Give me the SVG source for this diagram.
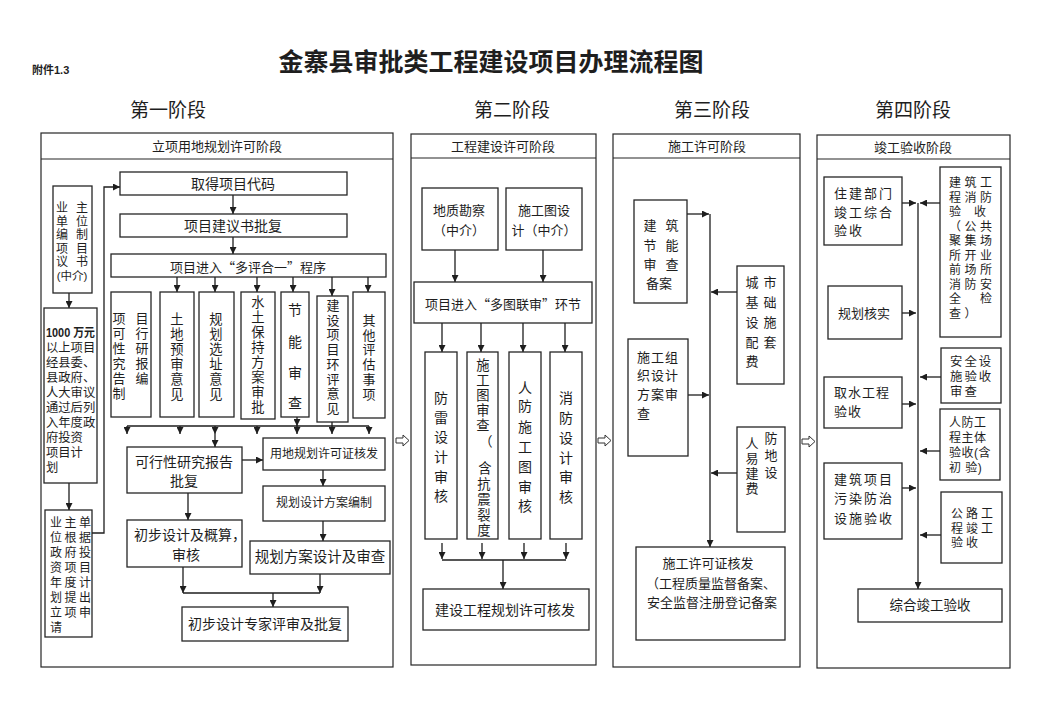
<svg xmlns="http://www.w3.org/2000/svg" width="1056" height="727" viewBox="0 0 1056 727">
<defs>
<marker id="ah" viewBox="0 0 10 10" refX="10" refY="5" markerWidth="7" markerHeight="7" markerUnits="userSpaceOnUse" orient="auto"><path d="M0,0 L10,5 L0,10 z" fill="#1e1e1e"/></marker>
<style>
text{font-family:"Liberation Sans","Noto Sans CJK SC","Noto Sans CJK JP",sans-serif;fill:#1e1e1e;dominant-baseline:central}
text.cjk{font-family:"Noto Sans CJK SC","Noto Sans CJK JP",sans-serif}
.m{text-anchor:middle}
.s{text-anchor:start}
.f12{font-size:12px}.f13{font-size:13px}.f14{font-size:14px}
.fv{font-size:13.3px}
rect.b{fill:#fff;stroke:#262626;stroke-width:1.3}
rect.p{fill:none;stroke:#262626;stroke-width:1.2}
.ph line{stroke:#262626;stroke-width:1.2}
#edges line,#edges path{stroke:#1e1e1e;stroke-width:1.3;fill:none}
#edges .a{marker-end:url(#ah)}
.bk{fill:#fff;stroke:#333;stroke-width:1}
</style>
</defs>
<rect width="1056" height="727" fill="#fff"/>

<text x="32" y="70" class="s" font-size="11" font-weight="700">附件1.3</text>
<text x="491" y="62" class="m" font-size="25" font-weight="700">金寨县审批类工程建设项目办理流程图</text>
<text x="168" y="110" class="m" font-size="19">第一阶段</text>
<text x="512" y="110" class="m" font-size="19">第二阶段</text>
<text x="712" y="110" class="m" font-size="19">第三阶段</text>
<text x="913" y="110" class="m" font-size="19">第四阶段</text>

<!-- phase frames -->
<g id="phase1" class="ph"><rect class="p" x="41" y="133" width="352" height="534"/><line x1="41" y1="159" x2="393" y2="159"/><text x="217" y="146" class="m f13">立项用地规划许可阶段</text></g>
<g id="phase2" class="ph"><rect class="p" x="411" y="134" width="185" height="531"/><line x1="411" y1="158" x2="596" y2="158"/><text x="503" y="146" class="m f13">工程建设许可阶段</text></g>
<g id="phase3" class="ph"><rect class="p" x="613" y="134" width="187" height="533"/><line x1="613" y1="158" x2="800" y2="158"/><text x="707" y="146" class="m f13">施工许可阶段</text></g>
<g id="phase4" class="ph"><rect class="p" x="817" y="135" width="193" height="533"/><line x1="817" y1="159" x2="1010" y2="159"/><text x="913" y="147" class="m f13">竣工验收阶段</text></g>

<!-- connectors -->
<g id="edges">
<line class="a" x1="233" y1="195" x2="233" y2="214"/>
<line class="a" x1="233" y1="237" x2="233" y2="254"/>
<line class="a" x1="177" y1="277" x2="177" y2="292"/>
<line class="a" x1="215" y1="277" x2="215" y2="292"/>
<line class="a" x1="257" y1="277" x2="257" y2="292"/>
<line class="a" x1="293" y1="277" x2="293" y2="292"/>
<line class="a" x1="332" y1="277" x2="332" y2="296"/>
<line class="a" x1="368" y1="277" x2="368" y2="292"/>
<line x1="127" y1="426" x2="369" y2="426"/>
<line class="a" x1="297" y1="417" x2="297" y2="426"/>
<line class="a" x1="127" y1="426" x2="127" y2="434"/>
<line class="a" x1="180" y1="426" x2="180" y2="434"/>
<line class="a" x1="215" y1="426" x2="215" y2="434"/>
<line class="a" x1="257" y1="426" x2="257" y2="434"/>
<line class="a" x1="297" y1="426" x2="297" y2="434"/>
<line class="a" x1="332" y1="422" x2="332" y2="434"/>
<line class="a" x1="369" y1="426" x2="369" y2="434"/>
<line class="a" x1="215" y1="434" x2="215" y2="447"/>
<line class="a" x1="242" y1="460" x2="263" y2="460"/>
<line class="a" x1="323" y1="470" x2="323" y2="486"/>
<line class="a" x1="323" y1="521" x2="323" y2="541"/>
<line class="a" x1="188" y1="493" x2="188" y2="520"/>
<line class="a" x1="183" y1="567" x2="183" y2="593"/>
<line class="a" x1="320" y1="574" x2="320" y2="593"/>
<line x1="183" y1="593" x2="320" y2="593"/>
<line class="a" x1="273" y1="593" x2="273" y2="607"/>
<line class="a" x1="69" y1="293" x2="69" y2="308"/>
<line class="a" x1="69" y1="483" x2="69" y2="510"/>
<path class="a" d="M92,533 H104 V187 H120"/>

<line class="a" x1="455" y1="250" x2="455" y2="282"/>
<line class="a" x1="543" y1="250" x2="543" y2="282"/>
<line class="a" x1="442" y1="323" x2="442" y2="352"/>
<line class="a" x1="481" y1="323" x2="481" y2="352"/>
<line class="a" x1="523" y1="323" x2="523" y2="352"/>
<line class="a" x1="565" y1="323" x2="565" y2="352"/>
<line class="a" x1="442" y1="543" x2="442" y2="559"/>
<line class="a" x1="482" y1="543" x2="482" y2="559"/>
<line class="a" x1="524" y1="543" x2="524" y2="559"/>
<line class="a" x1="566" y1="543" x2="566" y2="559"/>
<line x1="442" y1="560" x2="566" y2="560"/>
<line class="a" x1="503" y1="560" x2="503" y2="589"/>

<line class="a" x1="687" y1="214" x2="709" y2="214"/>
<line class="a" x1="710" y1="214" x2="710" y2="547"/>
<line class="a" x1="737" y1="292" x2="711" y2="292"/>
<line class="a" x1="688" y1="395" x2="709" y2="395"/>
<line class="a" x1="737" y1="473" x2="711" y2="473"/>

<line class="a" x1="918" y1="203" x2="918" y2="589"/>
<line class="a" x1="902" y1="203" x2="916" y2="203"/>
<line class="a" x1="940" y1="203" x2="920" y2="203"/>
<line class="a" x1="902" y1="313" x2="916" y2="313"/>
<line class="a" x1="941" y1="377" x2="920" y2="377"/>
<line class="a" x1="902" y1="404" x2="916" y2="404"/>
<line class="a" x1="940" y1="451" x2="920" y2="451"/>
<line class="a" x1="902" y1="488" x2="916" y2="488"/>
<line class="a" x1="941" y1="535" x2="920" y2="535"/>
</g>

<!-- stage transfer arrows -->
<g id="stage-arrows">
<polygon class="bk" points="396,438 403,438 403,435 409,440.5 403,446 403,443 396,443"/>
<polygon class="bk" points="598,438 605,438 605,435 611,440.5 605,446 605,443 598,443"/>
<polygon class="bk" points="802,439 809,439 809,436 815,441.5 809,447 809,444 802,444"/>
</g>

<!-- phase 1 nodes -->
<g id="n_owner"><rect class="b" x="53" y="186" width="39" height="107"/>
<text class="m f12"><tspan x="62" y="208">业</tspan><tspan x="62" y="221.5">单</tspan><tspan x="62" y="235">编</tspan><tspan x="62" y="248.5">项</tspan><tspan x="62" y="262">议</tspan></text>
<text class="m f12"><tspan x="82" y="208">主</tspan><tspan x="82" y="221.5">位</tspan><tspan x="82" y="235">制</tspan><tspan x="82" y="248.5">目</tspan><tspan x="82" y="262">书</tspan></text>
<text x="72" y="276" class="m" font-size="11.5">(中介)</text></g>

<g id="n_plan1000"><rect class="b" x="44" y="308" width="53" height="175"/>
<text x="46" y="333" class="s" font-size="12" font-weight="700" textLength="49" lengthAdjust="spacingAndGlyphs">1000 万元</text>
<text class="s" font-size="12.3"><tspan x="46" y="348">以上项目</tspan><tspan x="46" y="363">经县委、</tspan><tspan x="46" y="378">县政府、</tspan><tspan x="46" y="393">人大审议</tspan><tspan x="46" y="408">通过后列</tspan><tspan x="46" y="423">入年度政</tspan><tspan x="46" y="438">府投资</tspan><tspan x="46" y="453">项目计</tspan><tspan x="46" y="468">划</tspan></text></g>

<g id="n_apply"><rect class="b" x="45" y="510" width="47" height="127"/>
<text class="s f12" letter-spacing="2.5"><tspan x="50" y="523">业主单</tspan><tspan x="50" y="538">位根据</tspan><tspan x="50" y="553">政府投</tspan><tspan x="50" y="568">资项目</tspan><tspan x="50" y="583">年度计</tspan><tspan x="50" y="598">划提出</tspan><tspan x="50" y="613">立项申</tspan><tspan x="50" y="628">请</tspan></text></g>

<g id="n_code"><rect class="b" x="120" y="172" width="227" height="23"/><text x="233" y="184" class="m f14">取得项目代码</text></g>
<g id="n_proposal"><rect class="b" x="120" y="214" width="227" height="23"/><text x="233" y="226" class="m f14">项目建议书批复</text></g>
<g id="n_multi"><rect class="b" x="111" y="254" width="275" height="23"/><text x="248" y="266" class="m f13 cjk">项目进入“多评合一”程序</text></g>

<g id="n_fsr"><rect class="b" x="111" y="292" width="40" height="125"/>
<text class="m f13"><tspan x="119" y="318">项</tspan><tspan x="119" y="333">可</tspan><tspan x="119" y="348">性</tspan><tspan x="119" y="363">究</tspan><tspan x="119" y="378">告</tspan><tspan x="119" y="393">制</tspan></text>
<text class="m f13"><tspan x="142" y="318">目</tspan><tspan x="142" y="333">行</tspan><tspan x="142" y="348">研</tspan><tspan x="142" y="363">报</tspan><tspan x="142" y="378">编</tspan></text></g>
<g id="n_landpre"><rect class="b" x="160" y="292" width="34" height="125"/>
<text class="m fv"><tspan x="177" y="319">土</tspan><tspan x="177" y="334">地</tspan><tspan x="177" y="349">预</tspan><tspan x="177" y="364">审</tspan><tspan x="177" y="379">意</tspan><tspan x="177" y="394">见</tspan></text></g>
<g id="n_site"><rect class="b" x="199" y="292" width="35" height="125"/>
<text class="m fv"><tspan x="216" y="319">规</tspan><tspan x="216" y="334">划</tspan><tspan x="216" y="349">选</tspan><tspan x="216" y="364">址</tspan><tspan x="216" y="379">意</tspan><tspan x="216" y="394">见</tspan></text></g>
<g id="n_water_soil"><rect class="b" x="241" y="292" width="34" height="127"/>
<text class="m fv"><tspan x="258" y="302">水</tspan><tspan x="258" y="317">土</tspan><tspan x="258" y="332">保</tspan><tspan x="258" y="347">持</tspan><tspan x="258" y="362">方</tspan><tspan x="258" y="377">案</tspan><tspan x="258" y="392">审</tspan><tspan x="258" y="407">批</tspan></text></g>
<g id="n_energy_rev"><rect class="b" x="281" y="292" width="28" height="125"/>
<text class="m f14"><tspan x="295" y="310">节</tspan><tspan x="295" y="342">能</tspan><tspan x="295" y="373">审</tspan><tspan x="295" y="403">查</tspan></text></g>
<g id="n_env"><rect class="b" x="317" y="296" width="31" height="126"/>
<text class="m f13"><tspan x="333" y="305">建</tspan><tspan x="333" y="319.7">设</tspan><tspan x="333" y="334.4">项</tspan><tspan x="333" y="349.1">目</tspan><tspan x="333" y="363.8">环</tspan><tspan x="333" y="378.5">评</tspan><tspan x="333" y="393.2">意</tspan><tspan x="333" y="407.9">见</tspan></text></g>
<g id="n_other"><rect class="b" x="353" y="292" width="32" height="126"/>
<text class="m f13"><tspan x="369" y="320">其</tspan><tspan x="369" y="334.7">他</tspan><tspan x="369" y="349.4">评</tspan><tspan x="369" y="364.1">估</tspan><tspan x="369" y="378.8">事</tspan><tspan x="369" y="393.5">项</tspan></text></g>

<g id="n_fsr_ok"><rect class="b" x="127" y="447" width="115" height="46"/><text x="184" y="462" class="m f14">可行性研究报告</text><text x="184" y="481" class="m f14">批复</text></g>
<g id="n_land"><rect class="b" x="263" y="438" width="122" height="32"/><text x="324" y="454" class="m f12">用地规划许可证核发</text></g>
<g id="n_plan_draft"><rect class="b" x="263" y="486" width="122" height="35"/><text x="324" y="503" class="m f12">规划设计方案编制</text></g>
<g id="n_plan_review"><rect class="b" x="250" y="541" width="140" height="33"/><text x="320" y="557" class="m" font-size="14.5">规划方案设计及审查</text></g>
<g id="n_prelim"><rect class="b" x="127" y="520" width="115" height="47"/><text x="190" y="535" class="m f14">初步设计及概算，</text><text x="186" y="555" class="m f14">审核</text></g>
<g id="n_expert"><rect class="b" x="182" y="607" width="166" height="34"/><text x="265" y="624" class="m f14">初步设计专家评审及批复</text></g>

<!-- phase 2 nodes -->
<g id="n_geo"><rect class="b" x="422" y="188" width="76" height="62"/><text x="459" y="210" class="m f13">地质勘察</text><text x="459" y="230" class="m f13">（中介）</text></g>
<g id="n_drawing"><rect class="b" x="506" y="188" width="76" height="62"/><text x="544" y="210" class="m f13">施工图设</text><text x="544" y="230" class="m f13">计（中介）</text></g>
<g id="n_joint"><rect class="b" x="414" y="282" width="178" height="41"/><text x="503" y="303" class="m f13 cjk">项目进入“多图联审”环节</text></g>
<g id="n_lightning"><rect class="b" x="425" y="352" width="32" height="187"/>
<text class="m f14"><tspan x="441" y="398">防</tspan><tspan x="441" y="418">雷</tspan><tspan x="441" y="437">设</tspan><tspan x="441" y="457">计</tspan><tspan x="441" y="477">审</tspan><tspan x="441" y="496">核</tspan></text></g>
<g id="n_drawing_rev"><rect class="b" x="467" y="352" width="31" height="187"/>
<text class="m fv"><tspan x="483" y="365">施</tspan><tspan x="483" y="380">工</tspan><tspan x="483" y="395">图</tspan><tspan x="483" y="410">审</tspan><tspan x="483" y="425">查</tspan><tspan x="486" y="441">（</tspan><tspan x="485" y="468">含</tspan><tspan x="484" y="483.5">抗</tspan><tspan x="484" y="499">震</tspan><tspan x="484" y="514.5">裂</tspan><tspan x="484" y="530">度</tspan></text></g>
<g id="n_civil_rev"><rect class="b" x="509" y="352" width="32" height="187"/>
<text class="m f14"><tspan x="525" y="388">人</tspan><tspan x="525" y="406">防</tspan><tspan x="525" y="427">施</tspan><tspan x="525" y="447">工</tspan><tspan x="525" y="467">图</tspan><tspan x="525" y="487">审</tspan><tspan x="525" y="506">核</tspan></text></g>
<g id="n_fire_rev"><rect class="b" x="550" y="352" width="32" height="187"/>
<text class="m f14"><tspan x="566" y="398">消</tspan><tspan x="566" y="418">防</tspan><tspan x="566" y="438">设</tspan><tspan x="566" y="458">计</tspan><tspan x="566" y="477">审</tspan><tspan x="566" y="497">核</tspan></text></g>
<g id="n_plan_permit"><rect class="b" x="423" y="589" width="166" height="41"/><text x="505" y="610" class="m f14">建设工程规划许可核发</text></g>

<!-- phase 3 nodes -->
<g id="n_energy"><rect class="b" x="634" y="200" width="53" height="103"/>
<text class="m f13"><tspan x="650" y="225">建</tspan><tspan x="650" y="245">节</tspan><tspan x="650" y="264">审</tspan></text>
<text class="m f13"><tspan x="672" y="225">筑</tspan><tspan x="672" y="245">能</tspan><tspan x="672" y="264">查</tspan></text>
<text x="659" y="283" class="m f13">备案</text></g>
<g id="n_city"><rect class="b" x="737" y="266" width="47" height="118"/>
<text class="m f13"><tspan x="752" y="282">城</tspan><tspan x="752" y="302">基</tspan><tspan x="752" y="322">设</tspan><tspan x="752" y="342">配</tspan><tspan x="752" y="361">费</tspan></text>
<text class="m f13"><tspan x="770" y="282">市</tspan><tspan x="770" y="302">础</tspan><tspan x="770" y="322">施</tspan><tspan x="770" y="342">套</tspan></text></g>
<g id="n_org"><rect class="b" x="628" y="339" width="60" height="117"/>
<text class="s f13" letter-spacing="1"><tspan x="637" y="357">施工组</tspan><tspan x="637" y="375">织设计</tspan><tspan x="637" y="394">方案审</tspan><tspan x="637" y="413">查</tspan></text></g>
<g id="n_civil_fee"><rect class="b" x="737" y="427" width="48" height="105"/>
<text class="m f13"><tspan x="752" y="443">人</tspan><tspan x="752" y="458">易</tspan><tspan x="752" y="473">建</tspan><tspan x="752" y="488">费</tspan></text>
<text class="m f13"><tspan x="771" y="438">防</tspan><tspan x="771" y="455">地</tspan><tspan x="771" y="472">设</tspan></text></g>
<g id="n_build_permit"><rect class="b" x="636" y="547" width="149" height="93"/>
<text x="708" y="563" class="m f13">施工许可证核发</text><text x="711" y="583" class="m f13">（工程质量监督备案、</text><text x="712" y="602" class="m f13">安全监督注册登记备案</text></g>

<!-- phase 4 nodes -->
<g id="n_zj"><rect class="b" x="824" y="177" width="78" height="68"/>
<text class="s f13" letter-spacing="2"><tspan x="834" y="193">住建部门</tspan><tspan x="834" y="212">竣工综合</tspan><tspan x="834" y="230">验收</tspan></text></g>
<g id="n_fire_acc"><rect class="b" x="940" y="167" width="61" height="170"/>
<text class="s f12" letter-spacing="3.5"><tspan x="949" y="183">建筑工</tspan><tspan x="949" y="197.5">程消防</tspan><tspan x="949" y="212">验</tspan><tspan x="974" y="212">收</tspan><tspan x="949" y="226.5">（公共</tspan><tspan x="949" y="241">聚集场</tspan><tspan x="949" y="255.5">所开业</tspan><tspan x="949" y="270">前场所</tspan><tspan x="949" y="284.5">消防安</tspan><tspan x="949" y="299">全</tspan><tspan x="980" y="299">检</tspan><tspan x="949" y="313.5">查）</tspan></text></g>
<g id="n_plan_check"><rect class="b" x="828" y="286" width="74" height="53"/><text x="864" y="313" class="m f13">规划核实</text></g>
<g id="n_safety"><rect class="b" x="941" y="348" width="60" height="55"/>
<text class="s" font-size="12.4" letter-spacing="2"><tspan x="950" y="362">安全设</tspan><tspan x="950" y="377">施验收</tspan><tspan x="950" y="392">审查</tspan></text></g>
<g id="n_water"><rect class="b" x="824" y="377" width="78" height="51"/>
<text class="s f13" letter-spacing="1"><tspan x="834" y="392">取水工程</tspan><tspan x="834" y="411">验收</tspan></text></g>
<g id="n_civil_acc"><rect class="b" x="940" y="409" width="60" height="71"/>
<text class="s f12" letter-spacing="0.5"><tspan x="949" y="423">人防工</tspan><tspan x="949" y="438">程主体</tspan><tspan x="949" y="453">验收(含</tspan><tspan x="949" y="468">初 验)</tspan></text></g>
<g id="n_pollution"><rect class="b" x="824" y="463" width="78" height="76"/>
<text class="s f13" letter-spacing="2"><tspan x="834" y="479">建筑项目</tspan><tspan x="834" y="498">污染防治</tspan><tspan x="834" y="518">设施验收</tspan></text></g>
<g id="n_road"><rect class="b" x="941" y="492" width="61" height="71"/>
<text class="s f12" letter-spacing="3"><tspan x="951" y="514">公路工</tspan><tspan x="951" y="528.5">程竣工</tspan><tspan x="951" y="543">验收</tspan></text></g>
<g id="n_final"><rect class="b" x="858" y="589" width="144" height="33"/><text x="930" y="605" class="m" font-size="13.5">综合竣工验收</text></g>
</svg>
